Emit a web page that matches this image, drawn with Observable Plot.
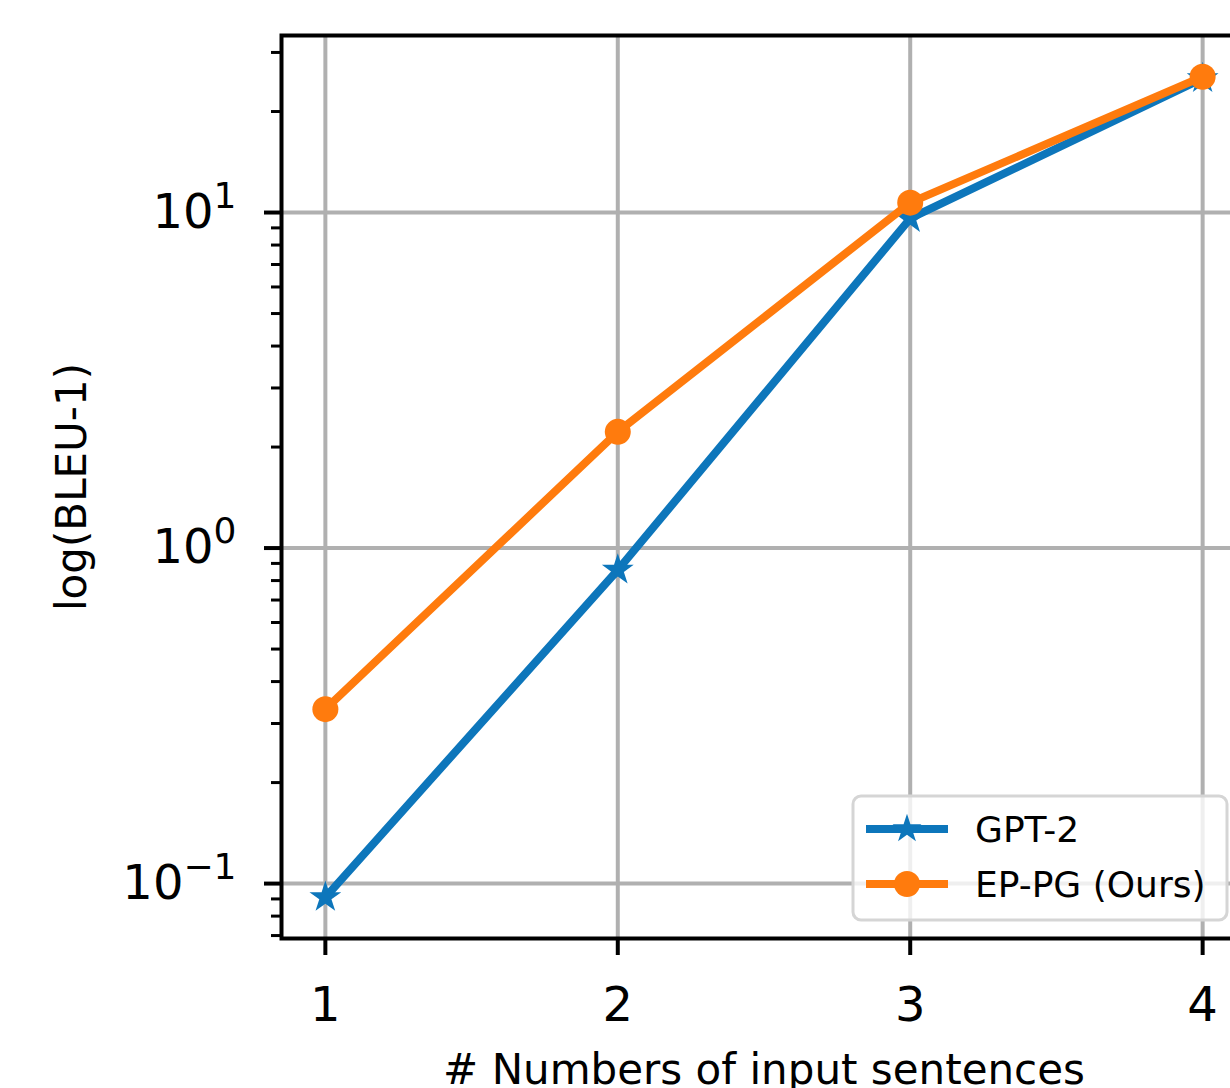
<!DOCTYPE html>
<html>
<head>
<meta charset="utf-8">
<script src="https://cdn.jsdelivr.net/npm/d3@7"></script>
<script src="https://cdn.jsdelivr.net/npm/@observablehq/plot@0.6"></script>
<style>
  html, body { margin: 0; padding: 0; overflow: hidden; background: white; }
  #chart { position: relative; width: 1230px; height: 1088px; overflow: hidden; }
  #chart svg { max-width: none !important; display: block; }
</style>
</head>
<body>
<div id="chart"></div>
<script>
// ---- data ----
const xValues = [1, 2, 3, 4];
const gpt2Values = [0.091, 0.86, 9.6, 25.1];
const eppgValues = [0.331, 2.22, 10.7, 25.4];
const seriesNames = ["GPT-2", "EP-PG (Ours)"];
const seriesColors = ["#0d76bb", "#ff7b0d"];
const yMajorTicks = [0.1, 1, 10];
const yMinorTicks = [0.07, 0.08, 0.09, 0.2, 0.3, 0.4, 0.5, 0.6, 0.7, 0.8, 0.9, 2, 3, 4, 5, 6, 7, 8, 9, 20, 30];
const xLabel = "# Numbers of input sentences";
const yLabel = "log(BLEU-1)";

const gpt2 = xValues.map((x, i) => ({x, y: gpt2Values[i]}));
const eppg = xValues.map((x, i) => ({x, y: eppgValues[i]}));

const gridStyle = {stroke: "#b0b0b0", strokeOpacity: 1, strokeWidth: 4};

const plot = Plot.plot({
  width: 1250,
  height: 1088,
  marginLeft: 281,
  marginRight: 4,
  marginTop: 35,
  marginBottom: 150,
  style: {fontFamily: "DejaVu Sans", background: "white", color: "black", maxWidth: "none"},
  x: {domain: [0.85, 4.15]},
  y: {type: "log", domain: [0.0686, 33.7]},
  marks: [
    Plot.gridX(xValues, gridStyle),
    Plot.gridY(yMajorTicks, gridStyle),
    Plot.line(gpt2, {x: "x", y: "y", stroke: seriesColors[0], strokeWidth: 8}),
    Plot.dot(gpt2, {x: "x", y: "y", symbol: "star", fill: seriesColors[0], r: 10}),
    Plot.line(eppg, {x: "x", y: "y", stroke: seriesColors[1], strokeWidth: 8}),
    Plot.dot(eppg, {x: "x", y: "y", symbol: "circle", fill: seriesColors[1], r: 13}),
    Plot.frame({stroke: "black", strokeWidth: 4}),
    Plot.axisX(xValues, {tickSize: 17, strokeWidth: 4, fontSize: 48, tickPadding: 31, tickFormat: d => String(d), label: null}),
    Plot.axisY(yMajorTicks, {tickSize: 17, strokeWidth: 4, fontSize: 48, tickPadding: 28, tickFormat: d => "E" + Math.round(Math.log10(d)), label: null}),
    Plot.axisY(yMinorTicks, {tickSize: 10, strokeWidth: 3, tickFormat: () => "", label: null}),
    Plot.text([xLabel], {frameAnchor: "bottom", textAnchor: "middle", lineAnchor: "middle", dy: 132, fontSize: 42}),
    Plot.text([yLabel], {frameAnchor: "left", textAnchor: "middle", lineAnchor: "middle", dx: -209, rotate: -90, fontSize: 42})
  ]
});

document.getElementById("chart").appendChild(plot);

// mathtext-like superscripts for the log tick labels
d3.select(plot).selectAll("text").each(function() {
  const t = this.textContent;
  if (/^E-?\d+$/.test(t)) {
    const e = +t.slice(1);
    const sel = d3.select(this);
    sel.text(null);
    sel.append("tspan").text("10");
    sel.append("tspan").attr("font-size", "36px").attr("dy", "-0.56em")
      .text(e < 0 ? "\u2212" + Math.abs(e) : String(e));
  }
});

// legend (lower right inside the axes)
const xs = plot.scale("x"), ys = plot.scale("y");
const frameRight = xs.range[1], frameBottom = ys.range[0];
const svg = d3.select(plot);
const lw = 374, lh = 124;
const lx = frameRight - 19 - lw, ly = frameBottom - 18 - lh;
const lg = svg.append("g").attr("text-anchor", "start");
lg.append("rect").attr("x", lx).attr("y", ly).attr("width", lw).attr("height", lh)
  .attr("rx", 8).attr("fill", "white").attr("fill-opacity", 0.8)
  .attr("stroke", "#d5d5d5").attr("stroke-width", 3);
seriesNames.forEach((name, i) => {
  const cy = ly + 33 + i * 55;
  lg.append("line").attr("x1", lx + 13).attr("x2", lx + 95).attr("y1", cy).attr("y2", cy)
    .attr("stroke", seriesColors[i]).attr("stroke-width", 8);
  if (i === 0) {
    const star = d3.symbol(d3.symbolStar, 260)();
    lg.append("path").attr("d", star).attr("transform", `translate(${lx + 54},${cy})`).attr("fill", seriesColors[i]);
  } else {
    lg.append("circle").attr("cx", lx + 54).attr("cy", cy).attr("r", 13).attr("fill", seriesColors[i]);
  }
  lg.append("text").attr("x", lx + 122).attr("y", cy).attr("dy", "0.36em").attr("text-anchor", "start")
    .attr("font-size", 36).attr("font-family", "DejaVu Sans").attr("fill", "black").text(name);
});
</script>
</body>
</html>
